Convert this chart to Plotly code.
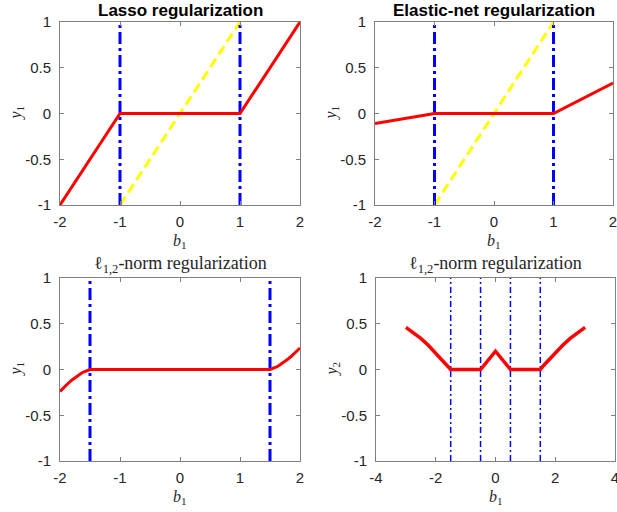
import plotly.graph_objects as go

# ---------------- data ----------------
lasso_x = [-2, -1, 1, 2]
lasso_y = [-1, 0, 0, 1]
identity_x = [-1, 1]
identity_y = [-1, 1]
lasso_vlines = [-1, 1]

enet_x = [-2, -1, 1, 2]
enet_y = [-0.11, 0, 0, 0.333]
enet_vlines = [-1, 1]

l12_x = [-2.0, -1.95, -1.9, -1.85, -1.8, -1.75, -1.7, -1.65, -1.6, -1.55, -1.5,
         1.5, 1.55, 1.6, 1.65, 1.7, 1.75, 1.8, 1.85, 1.9, 1.95, 2.0]
l12_y = [-0.24, -0.205, -0.172, -0.142, -0.114, -0.088, -0.064, -0.043, -0.025, -0.01, 0.0,
         0.0, 0.01, 0.025, 0.043, 0.064, 0.088, 0.114, 0.142, 0.172, 0.203, 0.235]
l12_vlines = [-1.5, 1.5]

y2_x = [-3.0, -2.75, -2.5, -2.25, -2.0, -1.875, -1.75, -1.625, -1.5, -0.5, 0.0, 0.5,
        1.5, 1.625, 1.75, 1.875, 2.0, 2.25, 2.5, 2.75, 3.0]
y2_y = [0.46, 0.405, 0.34, 0.265, 0.18, 0.14, 0.095, 0.05, 0.0, 0.0, 0.2, 0.0,
        0.0, 0.05, 0.095, 0.14, 0.18, 0.265, 0.34, 0.405, 0.46]
y2_vlines = [-1.5, -0.5, 0.5, 1.5]

xticks_small = [-2, -1, 0, 1, 2]
xticks_small_text = ["-2", "-1", "0", "1", "2"]
xticks_wide = [-4, -2, 0, 2, 4]
xticks_wide_text = ["-4", "-2", "0", "2", "4"]
yticks = [-1, -0.5, 0, 0.5, 1]
yticks_text = ["-1", "-0.5", "0", "0.5", "1"]

titles = ["<b>Lasso regularization</b>", "<b>Elastic-net regularization</b>",
          "ℓ<sub>1,2</sub>-norm regularization", "ℓ<sub>1,2</sub>-norm regularization"]
ytitles = ["<i>y</i><sub>1</sub>", "<i>y</i><sub>1</sub>", "<i>y</i><sub>1</sub>", "<i>y</i><sub>2</sub>"]
xtitle = "<i>b</i><sub>1</sub>"

# ---------------- figure ----------------
W, H = 617, 512
fig = go.Figure()

RED = "#FF0000"
BLUE = "#0000FF"
YELLOW = "#FFFF00"
thick_dd = "12px,4px,3px,4px"
thin_dd = "6px,3px,2px,3px"
yellow_dash = "10px,5px"

def vline_traces(xs, ax, width, dash):
    for v in xs:
        fig.add_trace(go.Scatter(x=[v, v], y=[-1, 1], mode="lines",
                                 line=dict(color=BLUE, width=width, dash=dash),
                                 xaxis=ax[0], yaxis=ax[1], showlegend=False, hoverinfo="skip"))

# panel 1
fig.add_trace(go.Scatter(x=identity_x, y=identity_y, mode="lines",
                         line=dict(color=YELLOW, width=3, dash=yellow_dash),
                         xaxis="x", yaxis="y", showlegend=False))
vline_traces(lasso_vlines, ("x", "y"), 3, thick_dd)
fig.add_trace(go.Scatter(x=lasso_x, y=lasso_y, mode="lines",
                         line=dict(color=RED, width=3),
                         xaxis="x", yaxis="y", showlegend=False))

# panel 2
fig.add_trace(go.Scatter(x=identity_x, y=identity_y, mode="lines",
                         line=dict(color=YELLOW, width=3, dash=yellow_dash),
                         xaxis="x2", yaxis="y2", showlegend=False))
vline_traces(enet_vlines, ("x2", "y2"), 3, thick_dd)
fig.add_trace(go.Scatter(x=enet_x, y=enet_y, mode="lines",
                         line=dict(color=RED, width=3),
                         xaxis="x2", yaxis="y2", showlegend=False))

# panel 3
vline_traces(l12_vlines, ("x3", "y3"), 3, thick_dd)
fig.add_trace(go.Scatter(x=l12_x, y=l12_y, mode="lines",
                         line=dict(color=RED, width=3),
                         xaxis="x3", yaxis="y3", showlegend=False))

# panel 4
vline_traces(y2_vlines, ("x4", "y4"), 1.5, thin_dd)
fig.add_trace(go.Scatter(x=y2_x, y=y2_y, mode="lines",
                         line=dict(color=RED, width=3.5),
                         xaxis="x4", yaxis="y4", showlegend=False))

# domains (pixels -> fractions)
def xd(a, b):
    return [a / W, b / W]

def yd(top, bottom):
    return [1 - bottom / H, 1 - top / H]

px_x = [(60, 300), (375, 613), (60, 300), (376, 615)]
px_y = [(22, 205), (22, 205), (278, 461), (278, 461)]
dom_x = [xd(*p) for p in px_x]
dom_y = [yd(*p) for p in px_y]

tickfont = dict(family="Liberation Sans, Arial, sans-serif", size=15, color="#262626")
labfont = dict(family="Liberation Serif, Times New Roman, serif", size=16, color="#262626")

common = dict(showline=True, linecolor="#7f7f7f", linewidth=1, mirror="ticks",
              ticks="inside", ticklen=4, tickcolor="#7f7f7f", showgrid=False,
              zeroline=False, tickfont=tickfont, automargin=False,
              ticklabeloverflow="allow")

suffixes = ["", "2", "3", "4"]
xranges = [[-2, 2], [-2, 2], [-2, 2], [-4, 4]]
for i, s in enumerate(suffixes):
    tv, tt = (xticks_wide, xticks_wide_text) if i == 3 else (xticks_small, xticks_small_text)
    fig.layout["xaxis" + s] = dict(domain=dom_x[i], range=xranges[i], anchor="y" + s,
                                  tickvals=tv, ticktext=tt, ticklabelstandoff=3, **common)
    fig.layout["yaxis" + s] = dict(domain=dom_y[i], range=[-1, 1], anchor="x" + s,
                                  tickvals=yticks, ticktext=yticks_text, ticklabelstandoff=5,
                                  **common)

# titles and axis labels
for i in range(4):
    cx = (dom_x[i][0] + dom_x[i][1]) / 2
    cy = (dom_y[i][0] + dom_y[i][1]) / 2
    if i < 2:
        fnt = dict(family="Liberation Sans, Arial, sans-serif", size=17, color="#000000")
    else:
        fnt = dict(family="Liberation Serif, Times New Roman, serif", size=18, color="#262626")
    fig.add_annotation(text=titles[i], x=cx, y=dom_y[i][1], xref="paper", yref="paper",
                       xanchor="center", yanchor="bottom", yshift=0, showarrow=False, font=fnt)
    # x label
    fig.add_annotation(text=xtitle, x=cx, y=dom_y[i][0], xref="paper", yref="paper",
                       xanchor="center", yanchor="middle", yshift=-36, showarrow=False,
                       font=labfont)
    # y label
    fig.add_annotation(text=ytitles[i], x=dom_x[i][0], y=cy, xref="paper", yref="paper",
                       xanchor="center", yanchor="middle", xshift=-44, textangle=-90,
                       showarrow=False, font=labfont)

fig.update_layout(width=W, height=H, margin=dict(l=0, r=0, t=0, b=0),
                  plot_bgcolor="white", paper_bgcolor="white")

fig.write_html("out.html", config={"displayModeBar": False},
               post_script="document.body.style.margin='0';document.body.style.padding='0';")
